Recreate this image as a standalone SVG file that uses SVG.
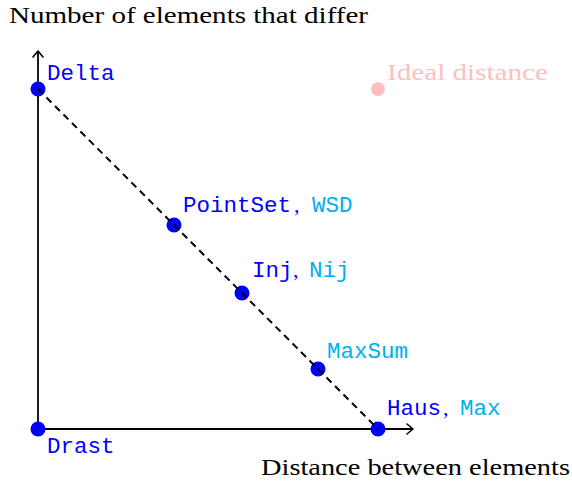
<svg xmlns="http://www.w3.org/2000/svg" width="572" height="483" viewBox="0 0 572 483">
<style>
.serif{font-family:"Liberation Serif","DejaVu Serif",serif;font-size:24px;fill:#000}
.mono{font-family:"Liberation Mono","DejaVu Sans Mono",monospace;font-size:22.5px}
.b{fill:#0000ff}
.c{fill:#00aeef}
.comma{font-family:"Liberation Serif",serif;font-size:22px;fill:#0000ff}
.dot{fill:#0000ff}
.axis{stroke:#000;stroke-width:1.8;fill:none}
.head{stroke:#000;stroke-width:1.6;fill:none;stroke-linecap:round;stroke-linejoin:round}
</style>
<rect width="572" height="483" fill="#fff"/>
<g id="axes">
  <line class="axis" x1="38" y1="429" x2="38" y2="51"/>
  <polyline class="head" points="33,57 38,51 43,57"/>
  <line class="axis" x1="38" y1="429" x2="413" y2="429"/>
  <polyline class="head" points="407,424 413,429 407,434"/>
</g>
<text class="serif" x="9" y="23" textLength="359" lengthAdjust="spacingAndGlyphs">Number of elements that differ</text>
<text class="serif" x="261" y="475" textLength="309" lengthAdjust="spacingAndGlyphs">Distance between elements</text>
<g id="ideal">
  <circle cx="378" cy="89" r="7" fill="#ffbfbf"/>
  <text class="serif" x="387" y="80" style="fill:#ffbfbf" textLength="161" lengthAdjust="spacingAndGlyphs">Ideal distance</text>
</g>
<g id="delta">
  <circle class="dot" cx="38" cy="89" r="7.5"/>
  <text class="mono b" x="47" y="80">Delta</text>
</g>
<g id="drast">
  <circle class="dot" cx="38" cy="429" r="7.5"/>
  <text class="mono b" x="47" y="453">Drast</text>
</g>
<g id="pointset">
  <circle class="dot" cx="174" cy="225" r="7.5"/>
  <text class="mono b" x="183" y="212">PointSet</text>
  <text class="comma" x="294" y="212">,</text>
  <text class="mono c" x="312" y="212">WSD</text>
</g>
<g id="inj">
  <circle class="dot" cx="242" cy="293" r="7.5"/>
  <text class="mono b" x="252" y="277">Inj</text>
  <text class="comma" x="293" y="277">,</text>
  <text class="mono c" x="309" y="277">Nij</text>
</g>
<g id="maxsum">
  <circle class="dot" cx="318" cy="369" r="7.5"/>
  <text class="mono c" x="327" y="358">MaxSum</text>
</g>
<g id="haus">
  <circle class="dot" cx="378" cy="429" r="7.5"/>
  <text class="mono b" x="387" y="415">Haus</text>
  <text class="comma" x="443" y="415">,</text>
  <text class="mono c" x="460" y="415">Max</text>
</g>
<g id="connectors">
  <line x1="38" y1="89" x2="378" y2="429" stroke="#000" stroke-width="2" stroke-dasharray="7,5"/>
</g>
</svg>
